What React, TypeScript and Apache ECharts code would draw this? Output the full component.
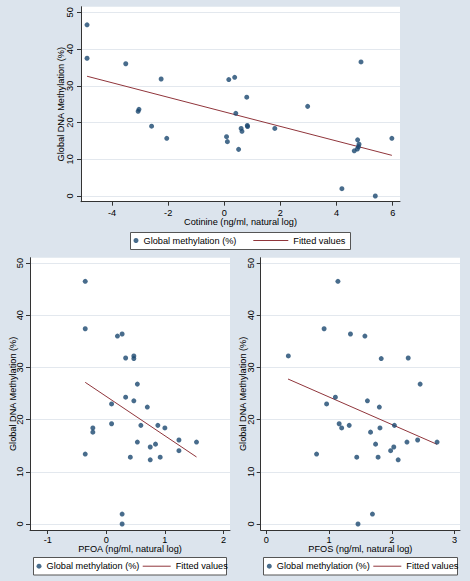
import React, { useEffect, useRef } from "react";
import * as echarts from "echarts";

// ---------- data ----------
const cotinineX = [-4.89, -4.89, -3.51, -3.07, -3.04, -2.59, -2.25, -2.05, 0.08, 0.11, 0.16, 0.37, 0.41, 0.51, 0.8, 0.6, 0.63, 0.82, 0.83, 1.8, 2.97, 4.87, 4.19, 5.38, 5.97, 4.75, 4.8, 4.78, 4.74, 4.63];
const cotinineY = [46.6, 37.5, 36.0, 23.05, 23.6, 19.0, 31.85, 15.7, 16.15, 14.8, 31.7, 32.3, 22.5, 12.7, 26.9, 18.4, 17.6, 19.2, 18.9, 18.4, 24.4, 36.5, 2.0, 0, 15.7, 15.3, 14.1, 13.4, 12.8, 12.3];

const pfoaX = [-0.36, -0.36, -0.36, -0.23, -0.23, 0.09, 0.09, 0.19, 0.27, 0.33, 0.47, 0.47, 0.33, 0.47, 0.53, 0.7, 0.59, 0.53, 0.41, 0.75, 0.84, 0.75, 0.92, 0.88, 1.0, 1.24, 1.24, 1.54, 0.27, 0.27];
const pfoaY = [46.5, 37.4, 13.4, 18.4, 17.6, 23.0, 19.2, 36.0, 36.4, 31.8, 32.2, 31.7, 24.3, 23.6, 26.8, 22.4, 18.9, 15.7, 12.8, 14.75, 15.3, 12.3, 12.8, 18.9, 18.4, 16.1, 14.05, 15.7, 1.9, 0];

const pfosX = [1.14, 0.92, 1.34, 1.57, 0.35, 1.83, 2.26, 2.45, 1.1, 0.96, 1.61, 1.8, 1.16, 1.2, 1.32, 1.66, 1.81, 2.04, 0.8, 1.44, 1.74, 1.78, 1.98, 2.03, 2.1, 2.24, 2.41, 2.72, 1.69, 1.46];
const pfosY = [46.5, 37.4, 36.4, 36.0, 32.2, 31.7, 31.8, 26.8, 24.3, 23.0, 23.6, 22.4, 19.2, 18.4, 18.9, 17.6, 18.4, 18.9, 13.4, 12.8, 15.3, 12.8, 14.05, 14.75, 12.3, 15.7, 16.1, 15.7, 1.9, 0];

// fitted values (line endpoints)
const cotinineFitX = [-4.89, 5.97];
const cotinineFitY = [32.6, 11.07];
const pfoaFitX = [-0.36, 1.54];
const pfoaFitY = [27.14, 12.84];
const pfosFitX = [0.345, 2.72];
const pfosFitY = [27.78, 15.26];

const yTicks = [0, 10, 20, 30, 40, 50];
const cotinineTicks = [-4, -2, 0, 2, 4, 6];
const pfoaTicks = [-1, 0, 1, 2];
const pfosTicks = [0, 1, 2, 3];

const SCATTER_NAME = "Global methylation (%)";
const FIT_NAME = "Fitted values";
const Y_NAME = "Global DNA Methylation (%)";

// ---------- styles ----------
const FONT = "'Liberation Sans', Arial, Helvetica, sans-serif";
const FS = 9.2;
const LH = 9;
const BG = "#dce4ed";
const DOT = "#1a476f";
const FIT = "#90353b";
const AXIS = "#333333";
const GRIDLINE = "#e3e8ee";

const pairs = (xs: number[], ys: number[]) => xs.map((x, i) => [x, ys[i]]);

function xAxis(gridIndex: number, min: number, max: number, ticks: number[], name: string, margin: number, nameGap: number) {
  return {
    type: "value",
    gridIndex,
    min,
    max,
    name,
    nameLocation: "middle",
    nameGap,
    nameMoveOverlap: false,
    nameTextStyle: { fontFamily: FONT, fontSize: FS, lineHeight: LH, color: "#000" },
    axisLine: { show: true, onZero: false, lineStyle: { color: AXIS, width: 1 } },
    axisTick: { show: true, length: 4, customValues: ticks, lineStyle: { color: AXIS, width: 1 } },
    axisLabel: { customValues: ticks, margin, fontFamily: FONT, fontSize: FS, lineHeight: LH, color: "#000" },
    splitLine: { show: false },
  };
}

function yAxis(gridIndex: number, min: number, max: number, margin: number, nameGap: number) {
  return {
    type: "value",
    gridIndex,
    min,
    max,
    name: Y_NAME,
    nameLocation: "middle",
    nameGap,
    nameMoveOverlap: false,
    nameTextStyle: { fontFamily: FONT, fontSize: FS, lineHeight: LH, color: "#000" },
    axisLine: { show: true, onZero: false, lineStyle: { color: AXIS, width: 1 } },
    axisTick: { show: true, length: 4, customValues: yTicks, lineStyle: { color: AXIS, width: 1 } },
    axisLabel: { customValues: yTicks, rotate: 90, margin, fontFamily: FONT, fontSize: FS, lineHeight: LH, color: "#000" },
    splitLine: { show: true, lineStyle: { color: GRIDLINE, width: 1 } },
  };
}

function scatter(i: number, xs: number[], ys: number[]) {
  return {
    type: "scatter",
    name: SCATTER_NAME,
    xAxisIndex: i,
    yAxisIndex: i,
    data: pairs(xs, ys),
    symbol: "circle",
    symbolSize: 5,
    itemStyle: { color: DOT },
    z: 3,
  };
}

function fit(i: number, xs: number[], ys: number[]) {
  return {
    type: "line",
    name: FIT_NAME,
    xAxisIndex: i,
    yAxisIndex: i,
    data: pairs(xs, ys),
    symbol: "none",
    showSymbol: false,
    lineStyle: { color: FIT, width: 1 },
    itemStyle: { color: FIT },
    z: 2,
  };
}

function legends(top: number, dotLeft: number, lineLeft: number, lineWidth: number) {
  const common = {
    top,
    orient: "horizontal",
    padding: 0,
    selectedMode: false,
    textStyle: { fontFamily: FONT, fontSize: FS, color: "#000", lineHeight: 11 },
    z: 10,
  };
  return [
    { ...common, left: dotLeft, itemWidth: 5, itemHeight: 5, data: [{ name: SCATTER_NAME, icon: "circle" }] },
    {
      ...common,
      left: lineLeft,
      itemWidth: lineWidth,
      itemHeight: 1,
      data: [{ name: FIT_NAME, icon: "rect", itemStyle: { color: FIT, borderWidth: 0 } }],
    },
  ];
}

function legendBox(x: number, y: number, w: number, h: number) {
  return {
    type: "rect",
    z: 1,
    shape: { x, y, width: w, height: h },
    style: { fill: "#ffffff", stroke: "#555555", lineWidth: 1 },
  };
}

export default function App() {
  const ref = useRef<HTMLDivElement>(null);

  useEffect(() => {
    if (!ref.current) return;
    const chart = echarts.init(ref.current, null, { renderer: "svg" });
    const option = {
      animation: false,
      backgroundColor: BG,
      grid: [
        { left: 81, top: 6.7, width: 319, height: 195, show: true, backgroundColor: "#fff", borderWidth: 0 },
        { left: 30, top: 257.7, width: 200, height: 272.3, show: true, backgroundColor: "#fff", borderWidth: 0 },
        { left: 260.7, top: 257.7, width: 199.3, height: 272.3, show: true, backgroundColor: "#fff", borderWidth: 0 },
      ],
      xAxis: [
        xAxis(0, -5.105, 6.26, cotinineTicks, "Cotinine (ng/ml, natural log)", 7, 16),
        xAxis(1, -1.303, 2.112, pfoaTicks, "PFOA (ng/ml, natural log)", 5, 14),
        xAxis(2, -0.09, 3.085, pfosTicks, "PFOS (ng/ml, natural log)", 5, 14),
      ],
      yAxis: [
        yAxis(0, -1.55, 51.53, 6.5, 15.5),
        yAxis(1, -1.15, 51.02, 5.5, 12.3),
        yAxis(2, -1.15, 51.02, 5.5, 12.8),
      ],
      legend: [
        ...legends(235, 133.5, 253.3, 35),
        ...legends(560.7, 36.5, 142.7, 28),
        ...legends(560.7, 266.8, 373.3, 28),
      ],
      graphic: [
        legendBox(130.5, 232.5, 220, 17),
        legendBox(33.5, 557.5, 193, 17.5),
        legendBox(263.5, 557.5, 194, 17.5),
      ],
      series: [
        fit(0, cotinineFitX, cotinineFitY),
        scatter(0, cotinineX, cotinineY),
        fit(1, pfoaFitX, pfoaFitY),
        scatter(1, pfoaX, pfoaY),
        fit(2, pfosFitX, pfosFitY),
        scatter(2, pfosX, pfosY),
      ],
    };
    chart.setOption(option as any);
    return () => chart.dispose();
  }, []);

  return (
    <div
      ref={ref}
      style={{ position: "absolute", left: 0, top: 0, width: 470, height: 581, background: BG }}
    />
  );
}
